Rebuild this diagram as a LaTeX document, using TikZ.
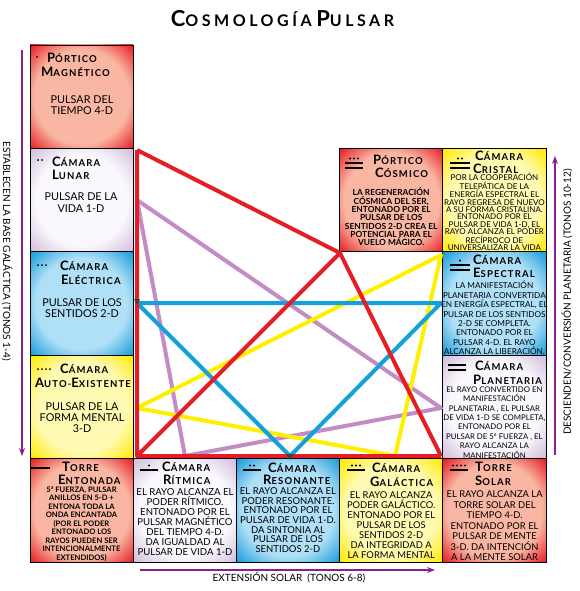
\documentclass[tikz,border=0pt]{standalone}
\usepackage{fontspec}
\setmainfont{Lato}
\newfontfamily\ttlfont[LetterSpace=12]{Lato}
\newfontfamily\bigttlfont[LetterSpace=22]{Lato}
\usetikzlibrary{calc,arrows.meta}

\definecolor{cRedO}{RGB}{230,30,38}
\definecolor{cRedI}{RGB}{249,182,162}
\definecolor{cLavO}{RGB}{208,190,220}
\definecolor{cLavI}{RGB}{250,248,252}
\definecolor{cBluO}{RGB}{24,156,218}
\definecolor{cBluI}{RGB}{176,224,247}
\definecolor{cYelO}{RGB}{255,234,0}
\definecolor{cYelI}{RGB}{255,250,178}
\definecolor{lRed}{RGB}{228,30,38}
\definecolor{lPur}{RGB}{196,140,196}
\definecolor{lYel}{RGB}{255,240,0}
\definecolor{lBlu}{RGB}{20,160,220}
\definecolor{axcol}{RGB}{140,30,140}

\pgfdeclareradialshading{shR}{\pgfpointorigin}{color(0bp)=(cRedI); color(23bp)=(cRedI); color(35bp)=(cRedO); color(50bp)=(cRedO)}
\pgfdeclareradialshading{shL}{\pgfpointorigin}{color(0bp)=(cLavI); color(22bp)=(cLavI); color(35bp)=(cLavO); color(50bp)=(cLavO)}
\pgfdeclareradialshading{shB}{\pgfpointorigin}{color(0bp)=(cBluI); color(22bp)=(cBluI); color(35bp)=(cBluO); color(50bp)=(cBluO)}
\pgfdeclareradialshading{shY}{\pgfpointorigin}{color(0bp)=(cYelI); color(22bp)=(cYelI); color(35bp)=(cYelO); color(50bp)=(cYelO)}

\newcommand\scw[2]{{\fontsize{13}{14}\selectfont #1}{\fontsize{9.5}{12}\selectfont #2}}
\newcommand\bigsc[2]{{\fontsize{22}{23}\selectfont #1}{\fontsize{16}{17}\selectfont #2}}
\newcommand\mayabars[5]{%
  \foreach \b in {1,...,#4}{\fill ({#1},{#2+(\b-1)*4.5-1}) rectangle ({#1+#5},{#2+(\b-1)*4.5+1});}%
  \ifnum#3>0
    \foreach \i in {1,...,#3}{\fill ({#1+#5/2+(\i-(#3+1)/2)*4},{#2-4.5}) circle (1.1);}%
  \fi}
\newcommand\mayadots[3]{\foreach \i in {1,...,#3}{\fill ({#1+(\i-1)*4},{#2}) circle (1);}}

\begin{document}
\begin{tikzpicture}[x=1pt,y=-1pt,
  cell/.style={draw=black, line width=0.9pt, minimum width=103.2pt, minimum height=103.4pt, inner sep=0pt},
  redc/.style={cell, shading=shR},
  lavc/.style={cell, shading=shL},
  bluc/.style={cell, shading=shB},
  yelc/.style={cell, shading=shY},
  ttl/.style={inner sep=0pt, anchor=base west, font=\ttlfont\bfseries},
  bd/.style={inner sep=0pt, align=center, anchor=center},
  cline/.style={line width=4pt, line join=round},
  ax/.style={draw=axcol, line width=1.1pt, -{Stealth[length=8pt,width=6pt]}},
  axl/.style={inner sep=0pt, font=\fontsize{10}{12}\selectfont}
]
\useasboundingbox (0,0) rectangle (579,591);

% title
\node[font=\bigttlfont\bfseries, inner sep=0pt, anchor=base] (title) at (282.5,27) {\bigsc{C}{OSMOLOGÍA} \bigsc{P}{ULSAR}};

% boxes
\node[redc] (pm) at (81.6,96.7) {};
\node[lavc] (lu) at (81.6,200.1) {};
\node[bluc] (el) at (81.6,303.5) {};
\node[yelc] (ae) at (81.6,406.9) {};
\node[redc] (te) at (81.6,510.3) {};
\node[lavc] (ri) at (184.8,510.3) {};
\node[bluc] (re) at (288,510.3) {};
\node[yelc] (ga) at (391.2,510.3) {};
\node[redc] (ts) at (494.4,510.3) {};
\node[redc] (pc) at (391.2,200.1) {};
\node[yelc] (cr) at (494.4,200.1) {};
\node[bluc] (es) at (494.4,303.5) {};
\node[lavc] (pl) at (494.4,406.9) {};

% central figure
\coordinate (A) at (137,150);
\coordinate (BL) at (137,456);
\coordinate (BR) at (441,456);
\coordinate (P) at (340,253);
\coordinate (pu1) at (137,200);
\coordinate (pu2) at (185,456);
\coordinate (pu3) at (441,408);
\coordinate (ye1) at (137,408);
\coordinate (ye2) at (441,255);
\coordinate (ye3) at (395,456);
\coordinate (bl1) at (137,303);
\coordinate (bl2) at (441,303);
\coordinate (bl3) at (290,456);
\draw[cline, lPur] (pu1) -- (pu2) -- (pu3) -- cycle;
\draw[cline, lYel] (ye1) -- (ye2) -- (ye3) -- cycle;
\draw[cline, lBlu] (bl1) -- (bl2) -- (bl3) -- cycle;
\draw[cline, lRed] (A) -- (P) -- (BR) (BL) -- (P) (A) -- (BL) -- (BR);
\fill[black!75] (134,299) -- (140,299) -- (137,305) -- cycle;
\fill[black!75] (286,454) -- (294,454) -- (290,460) -- cycle;

% markers
\mayadots{37}{57}{1}
\mayadots{38}{160}{2}
\mayadots{38}{265}{3}
\mayadots{38}{369}{4}
\mayabars{30}{468}{0}{1}{20}
\mayabars{140}{470}{1}{1}{18}
\mayabars{243}{470}{2}{1}{18}
\mayabars{347}{470}{3}{1}{18}
\mayabars{450}{470}{4}{1}{18}
\mayabars{345}{163}{3}{2}{18}
\mayabars{450}{163}{2}{2}{20}
\mayabars{450}{265}{1}{2}{20}
\mayabars{448}{365}{0}{2}{18}

% titles
\node[ttl] (pm-t1) at (47,63) {\scw{P}{ÓRTICO}};
\node[ttl] (pm-t2) at (41,77) {\scw{M}{AGNÉTICO}};
\node[ttl] (lu-t1) at (52,166) {\scw{C}{ÁMARA}};
\node[ttl] (lu-t2) at (52,179) {\scw{L}{UNAR}};
\node[ttl] (el-t1) at (60,270) {\scw{C}{ÁMARA}};
\node[ttl] (el-t2) at (61,284) {\scw{E}{LÉCTRICA}};
\node[ttl] (ae-t1) at (60,373) {\scw{C}{ÁMARA}};
\node[ttl] (ae-t2) at (35,387) {\scw{A}{UTO-}\scw{E}{XISTENTE}};
\node[ttl] (pc-t1) at (373,164) {\scw{P}{ÓRTICO}};
\node[ttl] (pc-t2) at (375,177) {\scw{C}{ÓSMICO}};
\node[ttl] (cr-t1) at (475,160) {\scw{C}{ÁMARA}};
\node[ttl] (cr-t2) at (473,173) {\scw{C}{RISTAL}};
\node[ttl] (es-t1) at (473,264) {\scw{C}{ÁMARA}};
\node[ttl] (es-t2) at (473,277) {\scw{E}{SPECTRAL}};
\node[ttl] (pl-t1) at (475,370.5) {\scw{C}{ÁMARA}};
\node[ttl] (pl-t2) at (473,384) {\scw{P}{LANETARIA}};
\node[ttl] (te-t1) at (62,471) {\scw{T}{ORRE}};
\node[ttl] (te-t2) at (58,484) {\scw{E}{NTONADA}};
\node[ttl] (ri-t1) at (162,471.5) {\scw{C}{ÁMARA}};
\node[ttl] (ri-t2) at (163,484.5) {\scw{R}{ÍTMICA}};
\node[ttl] (re-t1) at (268,472) {\scw{C}{ÁMARA}};
\node[ttl] (re-t2) at (263,484) {\scw{R}{ESONANTE}};
\node[ttl] (ga-t1) at (372,472) {\scw{C}{ÁMARA}};
\node[ttl] (ga-t2) at (370,486) {\scw{G}{ALÁCTICA}};
\node[ttl] (ts-t1) at (475,471) {\scw{T}{ORRE}};
\node[ttl] (ts-t2) at (475,485) {\scw{S}{OLAR}};

% bodies
\node[bd, font=\fontsize{10.8}{11.5}\selectfont] (pm-b) at (82,105) {PULSAR DEL\\TIEMPO 4-D};
\node[bd, font=\fontsize{10.8}{11.5}\selectfont] (lu-b) at (81,202.5) {PULSAR DE LA\\VIDA 1-D};
\node[bd, font=\fontsize{10.8}{11.5}\selectfont] (el-b) at (82,308) {PULSAR DE LOS\\SENTIDOS 2-D};
\node[bd, font=\fontsize{10.8}{11}\selectfont] (ae-b) at (82,417.5) {PULSAR DE LA\\FORMA MENTAL\\3-D};
\node[bd, font=\bfseries\fontsize{8.4}{8.35}\selectfont] (pc-b) at (391.2,217) {LA REGENERACIÓN\\CÓSMICA DEL SER,\\ENTONADO POR EL\\PULSAR DE LOS\\SENTIDOS 2-D CREA EL\\POTENCIAL PARA EL\\VUELO MÁGICO.};
\node[bd, font=\fontsize{8}{7.45}\selectfont] (cr-b) at (494.4,212) {POR LA COOPERACIÓN\\TELEPÁTICA DE LA\\ENERGÍA ESPECTRAL EL\\RAYO REGRESA DE NUEVO\\A SU FORMA CRISTALINA.\\ENTONADO POR EL\\PULSAR DE VIDA 1-D, EL\\RAYO ALCANZA EL PODER\\RECÍPROCO DE\\UNIVERSALIZAR LA VIDA};
\node[bd, font=\fontsize{8.2}{9.4}\selectfont] (es-b) at (494.4,318) {LA MANIFESTACIÓN\\PLANETARIA CONVERTIDA\\EN ENERGÍA ESPECTRAL, EL\\PULSAR DE LOS SENTIDOS\\2-D SE COMPLETA.\\ENTONADO POR EL\\PULSAR 4-D. EL RAYO\\ALCANZA LA LIBERACIÓN.};
\node[bd, font=\fontsize{7.8}{9.4}\selectfont] (pl-b) at (494.4,422.5) {EL RAYO CONVERTIDO EN\\MANIFESTACIÓN\\PLANETARIA , EL PULSAR\\DE VIDA 1-D SE COMPLETA,\\ENTONADO POR EL\\PULSAR DE 5ª FUERZA , EL\\RAYO ALCANZA LA\\MANIFESTACIÓN};
\node[bd, font=\bfseries\fontsize{7.6}{8.5}\selectfont] (te-b) at (81.5,524) {5ª FUERZA, PULSAR\\ANILLOS EN 5-D +\\ENTONA TODA LA\\ONDA ENCANTADA\\(POR EL PODER\\ENTONADO LOS\\RAYOS PUEDEN SER\\INTENCIONALMENTE\\EXTENDIDOS)};
\node[bd, font=\fontsize{9.6}{10.1}\selectfont] (ri-b) at (185,522) {EL RAYO ALCANZA EL\\PODER RÍTMICO.\\ENTONADO POR EL\\PULSAR MAGNÉTICO\\DEL TIEMPO 4-D.\\DA IGUALDAD AL\\PULSAR DE VIDA 1-D};
\node[bd, font=\fontsize{9.5}{9.7}\selectfont] (re-b) at (288,520) {EL RAYO ALCANZA EL\\PODER RESONANTE.\\ENTONADO POR EL\\PULSAR DE VIDA 1-D.\\DA SINTONIA AL\\PULSAR DE LOS\\SENTIDOS 2-D};
\node[bd, font=\fontsize{9.4}{10}\selectfont] (ga-b) at (391.2,525) {EL RAYO ALCANZA\\PODER GALÁCTICO.\\ENTONADO POR EL\\PULSAR DE LOS\\SENTIDOS 2-D\\DA INTEGRIDAD A\\LA FORMA MENTAL};
\node[bd, font=\fontsize{9.4}{10.5}\selectfont] (ts-b) at (494.6,526) {EL RAYO ALCANZA LA\\TORRE SOLAR DEL\\TIEMPO  4-D.\\ENTONADO POR EL\\PULSAR DE MENTE\\3-D. DA INTENCIÓN\\A LA MENTE SOLAR};

% axes
\coordinate (lt) at (22,50);
\coordinate (lb) at (22,456);
\coordinate (rb) at (555,455);
\coordinate (rt) at (555,156);
\coordinate (bsl) at (140,570);
\coordinate (bsr) at (435,570);
\draw[ax] (lt) -- (lb);
\draw[ax] (rb) -- (rt);
\draw[ax] (bsl) -- (bsr);
\node[axl, rotate=-90] (lab-l) at (7,251) {ESTABLECEN LA BASE GALÁCTICA (TONOS 1-4)};
\node[axl, rotate=90] (lab-r) at (567,302) {DESCIENDEN/CONVERSIÓN PLANETARIA (TONOS 10-12)};
\node[axl] (lab-b) at (289,578) {EXTENSIÓN SOLAR\ \ (TONOS 6-8)};
\end{tikzpicture}
\end{document}
